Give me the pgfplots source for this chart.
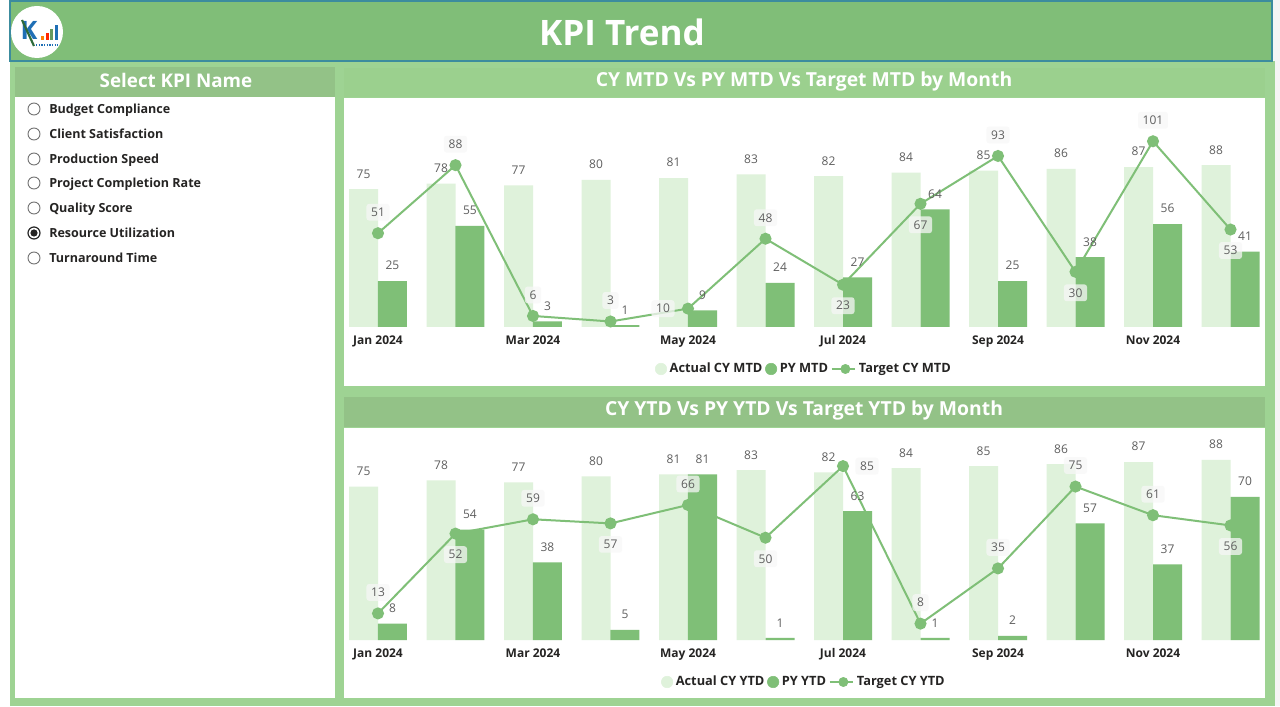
\documentclass[border=0pt]{standalone}
\usepackage{pgfplots}
\pgfplotsset{compat=1.18}
\usepackage{pgfplotstable}
\usepackage{fontspec}
\setmainfont{Open Sans}
\definecolor{hdr}{HTML}{80BE78}
\definecolor{bgg}{HTML}{9ED393}
\definecolor{headA}{HTML}{93C287}
\definecolor{headB}{HTML}{9BD08E}
\definecolor{actualc}{HTML}{DFF2DB}
\definecolor{pyc}{HTML}{7FBF77}
\definecolor{lblc}{HTML}{5F5F5F}
\definecolor{txtc}{HTML}{252423}
\definecolor{edge}{HTML}{3C8C9E}
\definecolor{logob}{HTML}{1F6FB5}
\definecolor{logog}{HTML}{2E6B3A}

\pgfplotstableread{
x a p t
0 75 25 51
1 78 55 88
2 77 3 6
3 80 1 3
4 81 9 10
5 83 24 48
6 82 27 23
7 84 64 67
8 85 25 93
9 86 38 30
10 87 56 101
11 88 41 53
}\mtd
\pgfplotstableread{
x a p t
0 75 8 13
1 78 54 52
2 77 38 59
3 80 5 57
4 81 81 66
5 83 1 50
6 82 63 85
7 84 1 8
8 85 2 35
9 86 57 75
10 87 37 61
11 88 70 56
}\ytd

\pgfplotsset{kpi/.style={
  scale only axis, width=691.69pt, xmin=-0.45, xmax=11.45, ymin=0,
  anchor=south west, clip=false,
  axis line style={draw=none}, tick style={draw=none}, ytick=\empty,
  xtick={0,2,4,6,8,10},
  xticklabels={Jan 2024,Mar 2024,May 2024,Jul 2024,Sep 2024,Nov 2024},
  xticklabel style={font=\bfseries\fontsize{9}{10}\selectfont, text=txtc, inner sep=0pt, anchor=north, yshift=-6pt, text height=7pt, text depth=0pt},
  /pgf/number format/assume math mode=true,
  legend style={at={(0.5,0)}, anchor=center, yshift=-31.5pt, draw=none, fill=none,
    font=\bfseries\fontsize{9.6}{11}\selectfont, text=txtc, legend columns=-1,
    /tikz/every even column/.append style={column sep=0pt},
    /tikz/every odd column/.append style={column sep=0pt}},
  barA/.style={forget plot, ybar, bar width=21.75pt, bar shift=0pt, fill=actualc, draw=none,
    x filter/.expression={x-0.187},
    nodes near coords, every node near coord/.append style={anchor=south, inner sep=0pt, yshift=8pt, text=lblc, font=\fontsize{9}{10}\selectfont}},
  barP/.style={forget plot, ybar, bar width=21.75pt, bar shift=0pt, fill=pyc, draw=none,
    x filter/.expression={x+0.187},
    nodes near coords, every node near coord/.append style={anchor=south, inner sep=0pt, yshift=8pt, text=lblc, font=\fontsize{9}{10}\selectfont}},
  tline/.style={forget plot, pyc, line width=1.5pt, mark=*, mark size=3.75pt, mark options={fill=pyc, draw=pyc}},
  tlab/.style={forget plot, draw=none, mark=none, nodes near coords,
    every node near coord/.append style={anchor=center,
      fill=white!97!black, fill opacity=0.75, text opacity=1, rounded corners=2pt,
      inner xsep=3.5pt, inner ysep=3pt, text=lblc, font=\fontsize{9}{10}\selectfont}},
  tabove/.style={tlab, every node near coord/.append style={yshift=15.75pt}},
  tbelow/.style={tlab, every node near coord/.append style={yshift=-15.75pt}},
  tleft/.style={tlab, every node near coord/.append style={xshift=-18.75pt}},
  tright/.style={tlab, every node near coord/.append style={xshift=18pt}},
  legA/.style={legend image code/.code={\fill[actualc] (0.2cm,0cm) circle (4.3pt);}},
  legP/.style={legend image code/.code={\fill[pyc] (0.2cm,0cm) circle (4.3pt);}},
  legT/.style={legend image code/.code={\draw[pyc, line width=1.5pt] (0cm,0cm) -- (0.62cm,0cm); \fill[pyc] (0.36cm,0cm) circle (3.5pt);}},
}}

\begin{document}
\begin{tikzpicture}
\begin{scope}[x=0.75pt,y=-0.75pt,shift={(0pt,529.5pt)}]
  % page background
  \fill[white!96!black] (0,0) rectangle (1280,706);
  \fill[white] (0,0) rectangle (10,706);
  \fill[bgg] (10,61) rectangle (1275,706);
  % header
  \fill[hdr] (10,1) rectangle (1272,61);
  \draw[edge, line width=0.9pt] (10,1) rectangle (1272,61);
  \node[text=white, font=\bfseries\fontsize{26.3}{28}\selectfont] at (622,32) {KPI Trend};
  % logo
  \fill[white] (37,32) circle (26);
  \node[text=logob, font=\bfseries\fontsize{19}{20}\selectfont] at (29,30) {K};
  \draw[logog, line width=1.6pt] (22,20) -- (34,46);
  \fill[orange] (41,36) rectangle (44,40);
  \fill[red!70!orange] (45.5,33) rectangle (48.5,40);
  \fill[pyc!80!black] (50,29) rectangle (53,40);
  \fill[logob] (54.5,25) rectangle (57.5,40);
  \draw[logob, line width=0.8pt, dash pattern=on 1pt off 1pt] (36,45) -- (58,45);
  % left panel
  \fill[headA] (15,67) rectangle (335,97);
  \fill[white] (15,97) rectangle (335,698);
  \node[text=white, font=\bfseries\fontsize{14.1}{16}\selectfont] at (176,80.5) {Select KPI Name};
  \foreach \yy/\name in {109/Budget Compliance,134/Client Satisfaction,159/Production Speed,183/Project Completion Rate,208/Quality Score,233/Resource Utilization,258/Turnaround Time}{
    \draw[black!55, line width=0.7pt] (34,\yy) circle (6);
    \node[anchor=base west, inner sep=0pt, text=txtc, font=\bfseries\fontsize{9.4}{11}\selectfont] at (49,\yy+4.7) {\name};
  }
  \draw[black!85, line width=0.8pt] (34,233) circle (6);
  \fill[txtc] (34,233) circle (3.6);
  % chart panels
  \fill[headB] (344,68) rectangle (1265,97);
  \fill[white] (344,98) rectangle (1265,386);
  \node[text=white, font=\bfseries\fontsize{14.5}{16}\selectfont] at (804,81.5) {CY MTD Vs PY MTD Vs Target MTD by Month};
  \fill[headA] (344,397) rectangle (1265,427);
  \fill[white] (344,428) rectangle (1265,698);
  \node[text=white, font=\bfseries\fontsize{14.5}{16}\selectfont] at (804,410.5) {CY YTD Vs PY YTD Vs Target YTD by Month};
\end{scope}

% MTD chart
\begin{axis}[kpi, at={(257.34pt,284.25pt)}, height=162.75pt, ymax=118]
  \addlegendimage{legA}\addlegendentry{Actual CY MTD}
  \addlegendimage{legP}\addlegendentry{PY MTD}
  \addlegendimage{legT}\addlegendentry{Target CY MTD}
  \addplot[barA] table[x=x, y=a] {\mtd};
  \addplot[barP] table[x=x, y=p] {\mtd};
  \addplot[tline] table[x=x, y=t] {\mtd};
  \addplot[tabove] coordinates {(0,51) (1,88) (2,6) (3,3) (5,48) (8,93) (10,101)};
  \addplot[tbelow] coordinates {(6,23) (7,67) (9,30) (11,53)};
  \addplot[tleft] coordinates {(4,10)};
\end{axis}

% YTD chart
\begin{axis}[kpi, at={(257.34pt,49.5pt)}, height=151.9pt, ymax=99]
  \addlegendimage{legA}\addlegendentry{Actual CY YTD}
  \addlegendimage{legP}\addlegendentry{PY YTD}
  \addlegendimage{legT}\addlegendentry{Target CY YTD}
  \addplot[barA] table[x=x, y=a] {\ytd};
  \addplot[barP] table[x=x, y=p] {\ytd};
  \addplot[tline] table[x=x, y=t] {\ytd};
  \addplot[tabove] coordinates {(0,13) (2,59) (4,66) (7,8) (8,35) (9,75) (10,61)};
  \addplot[tbelow] coordinates {(1,52) (3,57) (5,50) (11,56)};
  \addplot[tright] coordinates {(6,85)};
\end{axis}
\end{tikzpicture}
\end{document}
